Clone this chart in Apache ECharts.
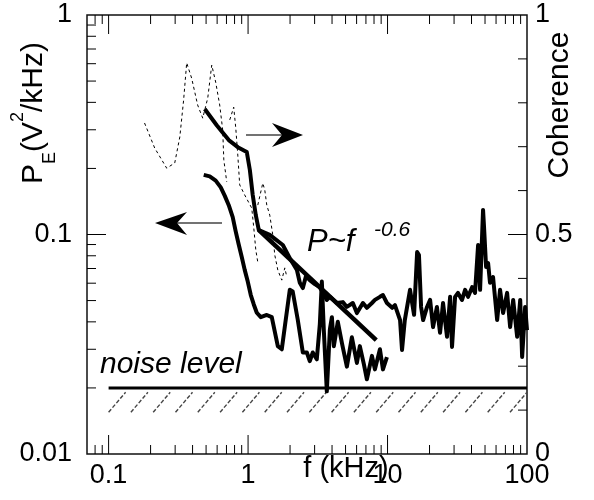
<!DOCTYPE html>
<html><head><meta charset="utf-8">
<script src="https://cdn.jsdelivr.net/npm/echarts@6/dist/echarts.min.js"></script>
<style>html,body{margin:0;padding:0;background:#fff}#c{width:594px;height:500px}</style>
</head><body><div id="c"></div>
<script>
// ---- data (frequency in kHz) ----
const powerF = [0.481,0.531,0.586,0.637,0.681,0.727,0.776,0.816,0.857,0.901,0.946,0.995,1.046,1.099,1.155,1.234,1.362,1.479,1.634,1.745,1.834,1.992,2.09,2.27,2.47,2.64,2.77,2.91,3.11,3.27,3.38,3.49,3.67,3.86,3.99,4.12,4.40,4.71,5.11,5.55,6.03,6.33,6.77,7.11,7.73,8.12,8.82,9.27,9.90];
const powerP = [0.187,0.184,0.176,0.164,0.150,0.136,0.120,0.103,0.090,0.079,0.069,0.061,0.053,0.048,0.044,0.042,0.043,0.042,0.031,0.030,0.038,0.056,0.055,0.041,0.029,0.029,0.0265,0.029,0.027,0.039,0.061,0.037,0.0193,0.037,0.042,0.031,0.040,0.032,0.025,0.034,0.026,0.031,0.0256,0.0219,0.028,0.0243,0.030,0.0243,0.0276];

const cohF = [0.489,0.596,0.727,0.844,0.979,1.03,1.08,1.136,1.194,1.431,1.775,1.992,2.24,2.35,2.47,2.60,2.77,3.01,3.27,3.44,3.67,3.86,4.33,4.78,5.11,5.64,6.03,6.66,7.11,7.73,8.12,8.82,9.27,9.90,10.8,11.3,12.3,12.7,13.3,14.5,15.5,16.3,16.8,17.4,18.0,19.2,20.2,21.2,22.6,23.8,25.0,26.7,28.1,29.0,30.5,32.0,34.2,36.0,37.8,40.4,42.4,44.6,46.1,48.4,49.2,50.9,52.6,54.3,57.1,61.1,64.1,67.4,72.0,75.7,79.6,85.0,89.4,92.3,97.0,100];
const cohC = [0.786,0.749,0.715,0.699,0.688,0.647,0.590,0.544,0.510,0.499,0.476,0.446,0.419,0.390,0.378,0.405,0.396,0.387,0.380,0.367,0.351,0.358,0.344,0.346,0.335,0.344,0.321,0.344,0.333,0.344,0.351,0.358,0.362,0.344,0.333,0.339,0.305,0.237,0.305,0.374,0.317,0.460,0.453,0.335,0.305,0.335,0.351,0.289,0.335,0.276,0.344,0.267,0.358,0.244,0.358,0.367,0.351,0.374,0.358,0.380,0.367,0.476,0.374,0.556,0.517,0.426,0.435,0.390,0.403,0.305,0.374,0.321,0.367,0.289,0.351,0.267,0.351,0.221,0.335,0.282];

const dashAF = [0.181,0.214,0.261,0.298,0.324,0.345,0.363,0.394,0.435,0.473,0.514,0.549,0.586,0.626,0.658,0.670,0.703];
const dashAC = [0.754,0.697,0.651,0.663,0.722,0.806,0.891,0.856,0.795,0.765,0.811,0.886,0.847,0.795,0.738,0.670,0.620];
const dashBF = [0.739,0.789,0.816,0.844,0.871,0.946,1.063,1.099,1.136,1.174];
const dashBC = [0.761,0.790,0.743,0.681,0.613,0.590,0.560,0.515,0.465,0.437];
const dashCF = [1.174,1.275,1.318,1.362,1.431,1.504,1.555,1.634,1.745,1.834,1.896];
const dashCC = [0.567,0.617,0.601,0.567,0.544,0.499,0.453,0.419,0.396,0.424,0.403];

const fitF = [1.19, 8.3];
const fitP = [0.105, 0.033];
const noiseF = [0.1, 100];
const noiseP = [0.02, 0.02];
const hatchBox = [0.1, 0.0155, 100, 0.0191];

// tick positions
const xMajor = [0.1, 1, 10];
const xMinor = [0.08,0.09,0.2,0.3,0.4,0.5,0.6,0.7,0.8,0.9,2,3,4,5,6,7,8,9,20,30,40,50,60,70,80,90];
const yMajor = [0.1];
const yMinor = [0.02,0.03,0.04,0.05,0.06,0.07,0.08,0.09,0.2,0.3,0.4,0.5,0.6,0.7,0.8,0.9];
const cMajor = [0.5];
const cMinor = [0.1,0.2,0.3,0.4,0.6,0.7,0.8,0.9];

// ---- chart ----
const FONT = 'Liberation Sans';
const zip = (a, b) => a.map((v, i) => [v, b[i]]);
const chart = echarts.init(document.getElementById('c'), null, {renderer: 'canvas'});
const MAJ = 19, MIN = 9;
const tickStyle = {stroke: '#000', lineWidth: 1};

function decadeLabel(v) {
  const l = Math.log10(v), r = Math.round(l);
  if (Math.abs(l - r) > 1e-6) return '';
  return String(Number(Math.pow(10, r).toFixed(4)));
}

const lineBase = {type: 'line', showSymbol: false, symbol: 'none', silent: true, animation: false};

chart.setOption({
  animation: false,
  grid: {left: 87, right: 67, top: 15, bottom: 46, show: true, borderColor: '#111', borderWidth: 1.5, backgroundColor: 'transparent'},
  xAxis: {
    type: 'log', logBase: 10, min: 0.07, max: 100,
    axisLine: {show: false}, axisTick: {show: false}, splitLine: {show: false},
    axisLabel: {formatter: decadeLabel, fontFamily: FONT, fontSize: 27, color: '#000', margin: 8, showMinLabel: false}
  },
  yAxis: [{
    type: 'log', logBase: 10, min: 0.01, max: 1,
    axisLine: {show: false}, axisTick: {show: false}, splitLine: {show: false},
    axisLabel: {formatter: decadeLabel, fontFamily: FONT, fontSize: 27, color: '#000', margin: 15}
  }, {
    type: 'value', min: 0, max: 1, interval: 0.5, position: 'right',
    axisLine: {show: false}, axisTick: {show: false}, splitLine: {show: false},
    axisLabel: {fontFamily: FONT, fontSize: 27, color: '#000', margin: 8}
  }],
  series: [
    Object.assign({}, lineBase, {name: 'dashA', yAxisIndex: 1, data: zip(dashAF, dashAC), lineStyle: {color: '#000', width: 1, type: [3, 3]}}),
    Object.assign({}, lineBase, {name: 'dashB', yAxisIndex: 1, data: zip(dashBF, dashBC), lineStyle: {color: '#000', width: 1, type: [3, 3]}}),
    Object.assign({}, lineBase, {name: 'dashC', yAxisIndex: 1, data: zip(dashCF, dashCC), lineStyle: {color: '#000', width: 1, type: [3, 3]}}),
    Object.assign({}, lineBase, {name: 'power', yAxisIndex: 0, data: zip(powerF, powerP), lineStyle: {color: '#000', width: 4, join: 'round'}}),
    Object.assign({}, lineBase, {name: 'coherence', yAxisIndex: 1, data: zip(cohF, cohC), lineStyle: {color: '#000', width: 4, join: 'round'}}),
    Object.assign({}, lineBase, {name: 'fit', yAxisIndex: 0, data: zip(fitF, fitP), lineStyle: {color: '#000', width: 4.5}}),
    Object.assign({}, lineBase, {name: 'noise', yAxisIndex: 0, data: zip(noiseF, noiseP), lineStyle: {color: '#000', width: 3}}),
    {
      type: 'custom', name: 'hatch', silent: true, xAxisIndex: 0, yAxisIndex: 0,
      encode: {x: [0, 2], y: [1, 3]},
      data: [hatchBox],
      renderItem: function (params, api) {
        const p0 = api.coord([api.value(0), api.value(1)]);
        const p1 = api.coord([api.value(2), api.value(3)]);
        const w = 17, n = 19;
        const step = (p1[0] - p0[0] - w) / (n - 1);
        const kids = [];
        for (let i = 0; i < n; i++) {
          const x = p0[0] + i * step;
          kids.push({type: 'line', shape: {x1: x, y1: p0[1], x2: x + w, y2: p1[1]},
            style: {stroke: '#444', lineWidth: 1.4, lineDash: [4, 2]}});
        }
        return {type: 'group', children: kids};
      }
    },
    {
      type: 'custom', name: 'xticks', silent: true, xAxisIndex: 0, yAxisIndex: 0, encode: {x: 0, y: 1}, z: 10,
      data: xMajor.map(v => [v, 0.01, 1]).concat(xMinor.map(v => [v, 0.01, 0])),
      renderItem: function (params, api) {
        const v = api.value(0), len = api.value(2) ? MAJ : MIN;
        const pb = api.coord([v, 0.01]), pt = api.coord([v, 1]);
        return {type: 'group', children: [
          {type: 'line', shape: {x1: pb[0], y1: pb[1], x2: pb[0], y2: pb[1] - len}, style: tickStyle},
          {type: 'line', shape: {x1: pt[0], y1: pt[1], x2: pt[0], y2: pt[1] + len}, style: tickStyle}
        ]};
      }
    },
    {
      type: 'custom', name: 'yticks', silent: true, xAxisIndex: 0, yAxisIndex: 0, encode: {x: 0, y: 1}, z: 10,
      data: yMajor.map(v => [0.07, v, 1]).concat(yMinor.map(v => [0.07, v, 0])),
      renderItem: function (params, api) {
        const len = api.value(2) ? MAJ : MIN;
        const p = api.coord([api.value(0), api.value(1)]);
        return {type: 'line', shape: {x1: p[0], y1: p[1], x2: p[0] + len, y2: p[1]}, style: tickStyle};
      }
    },
    {
      type: 'custom', name: 'cticks', silent: true, xAxisIndex: 0, yAxisIndex: 1, encode: {x: 0, y: 1}, z: 10,
      data: cMajor.map(v => [100, v, 1]).concat(cMinor.map(v => [100, v, 0])),
      renderItem: function (params, api) {
        const len = api.value(2) ? MAJ : MIN;
        const p = api.coord([api.value(0), api.value(1)]);
        return {type: 'line', shape: {x1: p[0], y1: p[1], x2: p[0] - len, y2: p[1]}, style: tickStyle};
      }
    }
  ],
  graphic: [
    {type: 'text', x: 34, y: 113, rotation: Math.PI / 2, silent: true,
      style: {text: '{m|P}{s|E}{m|(V}{u|2}{m|/kHz)}', align: 'center', verticalAlign: 'middle', fill: '#000',
        rich: {
          m: {fontFamily: FONT, fontSize: 30, lineHeight: 50, verticalAlign: 'middle', fill: '#000'},
          s: {fontFamily: FONT, fontSize: 18, lineHeight: 18, verticalAlign: 'bottom', fill: '#000'},
          u: {fontFamily: FONT, fontSize: 18, lineHeight: 18, verticalAlign: 'top', fill: '#000'}
        }}},
    {type: 'text', x: 560, y: 105, rotation: Math.PI / 2, silent: true,
      style: {text: 'Coherence', font: '30px "Liberation Sans"', align: 'center', verticalAlign: 'middle', fill: '#000'}},
    {type: 'text', x: 346, y: 469, silent: true,
      style: {text: 'f (kHz)', font: '29px "Liberation Sans"', align: 'center', verticalAlign: 'middle', fill: '#000'}},
    {type: 'text', x: 100, y: 365, silent: true,
      style: {text: 'noise level', font: 'italic 30px "Liberation Sans"', align: 'left', verticalAlign: 'middle', fill: '#000'}},
    {type: 'text', x: 307, y: 242, silent: true,
      style: {text: 'P~f', font: 'italic 31px "Liberation Sans"', align: 'left', verticalAlign: 'middle', fill: '#000'}},
    {type: 'text', x: 374, y: 230, silent: true,
      style: {text: '-0.6', font: 'italic 21px "Liberation Sans"', align: 'left', verticalAlign: 'middle', fill: '#000'}},
    {type: 'line', silent: true, shape: {x1: 246, y1: 135, x2: 284, y2: 135}, style: {stroke: '#444', lineWidth: 1.5}},
    {type: 'polygon', silent: true, shape: {points: [[303, 135], [272, 123], [282, 135], [272, 147]]}, style: {fill: '#000'}},
    {type: 'line', silent: true, shape: {x1: 176, y1: 223, x2: 222, y2: 223}, style: {stroke: '#444', lineWidth: 1.5}},
    {type: 'polygon', silent: true, shape: {points: [[155, 223], [187, 212], [177, 223], [187, 235]]}, style: {fill: '#000'}}
  ]
});
</script>
</body></html>
